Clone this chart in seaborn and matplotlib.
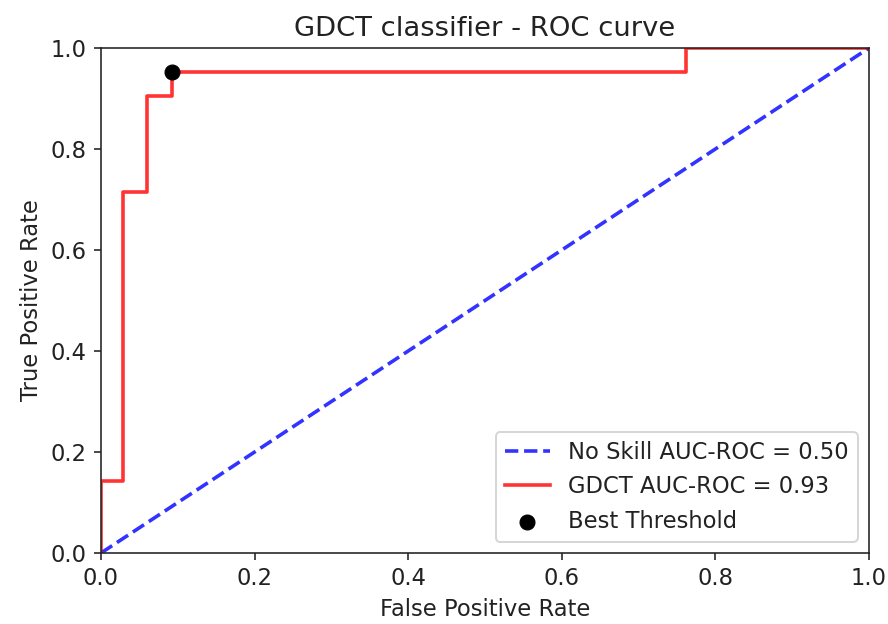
import matplotlib
matplotlib.use("Agg")
import matplotlib.pyplot as plt
import seaborn as sns
import pandas as pd

# ROC points of the GDCT classifier
fpr = [0.0, 0.0, 0.029, 0.029, 0.060, 0.060, 0.092, 0.092, 0.762, 0.762, 1.0]
tpr = [0.0, 0.143, 0.143, 0.714, 0.714, 0.905, 0.905, 0.952, 0.952, 1.0, 1.0]

# no-skill reference line
ns_fpr = [0.0, 1.0]
ns_tpr = [0.0, 1.0]

best_fpr = [0.092]
best_tpr = [0.952]

ns_auc = 0.50
gdct_auc = 0.93

plt.rcParams.update({
    "font.size": 11.3,
    "axes.titlesize": 13.7,
    "text.color": "#222222",
    "axes.labelcolor": "#222222",
    "xtick.color": "#222222",
    "ytick.color": "#222222",
    "axes.edgecolor": "#222222",
})

fig = plt.figure(figsize=(888 / 144, 624 / 144), dpi=144)
ax = fig.add_axes([101 / 888, 1 - 553 / 624, 768 / 888, 505 / 624])

roc = pd.DataFrame({"fpr": fpr, "tpr": tpr})
ns = pd.DataFrame({"fpr": ns_fpr, "tpr": ns_tpr})
best = pd.DataFrame({"fpr": best_fpr, "tpr": best_tpr})

sns.lineplot(data=ns, x="fpr", y="tpr", ax=ax, color="blue", linestyle="--",
             alpha=0.8, linewidth=1.8, sort=False, estimator=None,
             label=f"No Skill AUC-ROC = {ns_auc:.2f}")
sns.lineplot(data=roc, x="fpr", y="tpr", ax=ax, color="red", alpha=0.8,
             linewidth=1.8, sort=False, estimator=None,
             label=f"GDCT AUC-ROC = {gdct_auc:.2f}")
sns.scatterplot(data=best, x="fpr", y="tpr", ax=ax, color="black", s=55,
                edgecolor="black", zorder=5, label="Best Threshold")

ax.set_xlim(0, 1)
ax.set_ylim(0, 1)
ax.set_xlabel("False Positive Rate")
ax.set_ylabel("True Positive Rate")
ax.set_title("GDCT classifier - ROC curve")
ax.legend(loc="lower right")

fig.savefig("out.png", dpi=144)
